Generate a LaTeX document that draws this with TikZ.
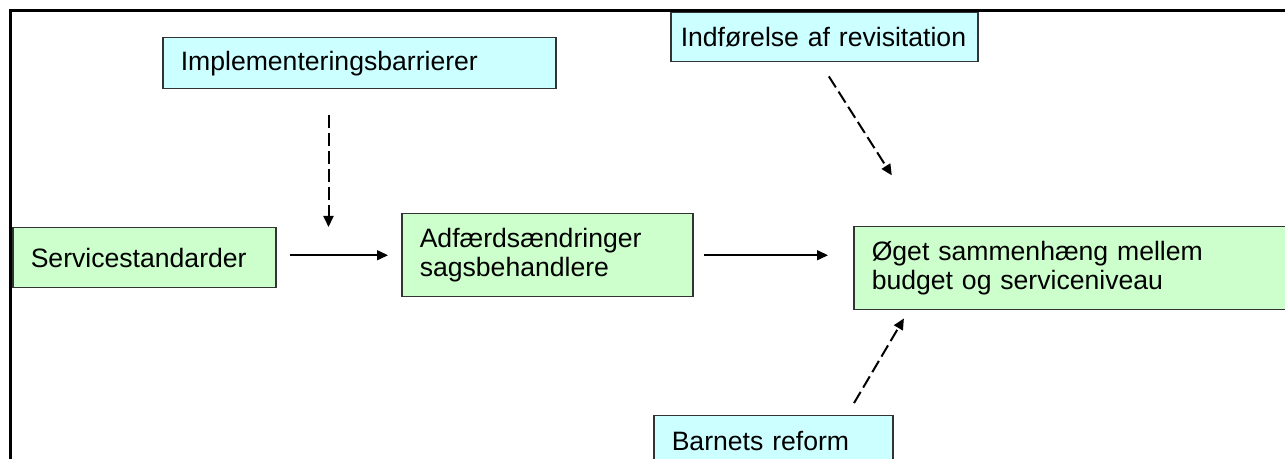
\documentclass[tikz,border=0pt]{standalone}
\usepackage{fontspec}
\setmainfont{Liberation Sans}
\usetikzlibrary{arrows.meta, calc}
\definecolor{boxcyan}{HTML}{CCFFFF}
\definecolor{boxgreen}{HTML}{CCFFCC}
\definecolor{boxline}{HTML}{333333}
\tikzstyle{factor} = [rectangle, anchor=north west, inner xsep=9pt, align=left, draw=boxline, line width=0.75pt, fill=boxcyan, font=\fontsize{13.3pt}{14.5pt}\selectfont]
\tikzstyle{effect} = [factor, fill=boxgreen]
\tikzstyle{arrow} = [line width=0.75pt, -{Triangle[length=5.5pt,width=5pt]}]
\tikzstyle{dasharrow} = [arrow, line width=1pt, dash pattern=on 6.5pt off 2.5pt]

\begin{document}
\begin{tikzpicture}[x=0.5pt, y=-0.5pt]
            \clip (0,0) rectangle (1285,459);
            \fill[white] (0,0) rectangle (1285,459);
            \draw[line width=1.5pt] (10,480) |- (1300,11);

            \node (impl) [factor, text width=178.5pt, minimum height=25.5pt] at (162,37) {Implementeringsbarrierer};
            \node (serv) [effect, text width=113.5pt, minimum height=30pt] at (12,227) {Servicestandarder};
            \node (adf) [effect, text width=127.5pt, minimum height=41.5pt] at (401,213) {Adfærdsændringer\\sagsbehandlere};
            \node (oget) [effect, text width=205.5pt, minimum height=41.5pt] at (853,226) {Øget sammenhæng mellem\\budget og serviceniveau};
            \node (indf) [factor, inner xsep=5pt, text width=143.5pt, minimum height=24.5pt] at (670,12) {Indførelse af revisitation};
            \node (barn) [factor, text width=101.5pt, minimum height=25pt] at (653,415) {Barnets reform};

            \coordinate (bar_tip) at ($(serv.north east)+(52,0)$);
            \coordinate (rev_out) at ($(indf.south west)+(150,0)$);
            \coordinate (rev_in) at ($(oget.north west)+(71,0)$);
            \coordinate (ref_out) at ($(barn.north west)+(194,0)$);
            \coordinate (ref_in) at ($(oget.south west)+(55.6,0)$);

            \draw [arrow, shorten <=6.5pt, shorten >=6.5pt] (serv.east |- adf) -- (adf.west);
            \draw [arrow, shorten <=5pt, shorten >=12.5pt] (adf.east) -- (adf.east -| oget.west);
            \draw [dasharrow, shorten <=13pt] (impl.south -| bar_tip) -- (bar_tip);
            \draw [dasharrow, shorten <=8.25pt, shorten >=30pt] (rev_out) -- (rev_in);
            \draw [dasharrow, shorten <=6.9pt, shorten >=4.6pt] (ref_out) -- (ref_in);
\end{tikzpicture}
\end{document}
